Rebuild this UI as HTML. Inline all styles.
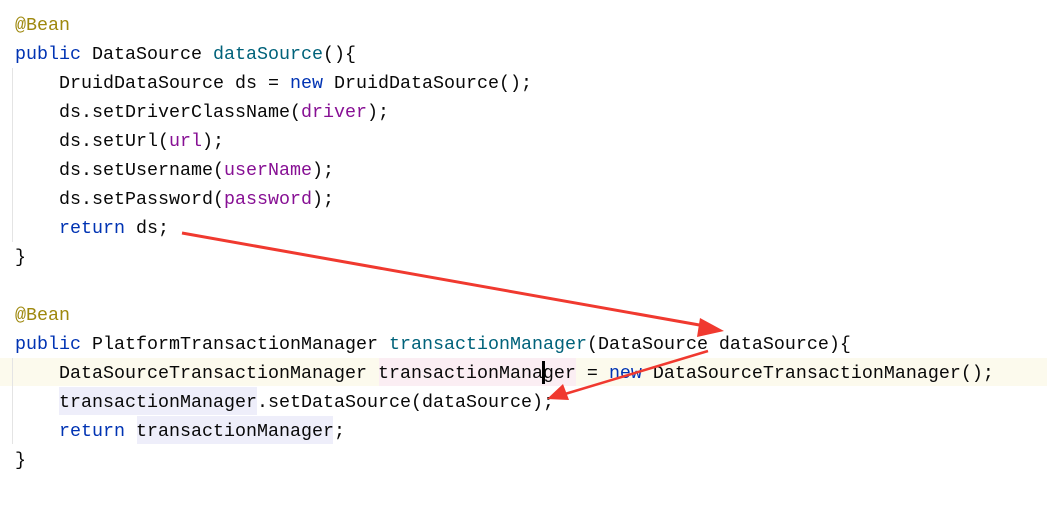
<!DOCTYPE html>
<html><head><style>
body{margin:0;width:1047px;height:521px;background:#fff;position:relative;overflow:hidden;font-family:"Liberation Mono",monospace;font-size:18.33px;color:#080808}
.l{position:absolute;left:15px;height:29px;line-height:29px;white-space:pre}
.a{color:#9e880d}.k{color:#0033b3}.f{color:#00627a}.p{color:#871094}
.hl{position:absolute}
</style></head><body>
<div class="hl" style="left:0;top:358px;width:1047px;height:28px;background:#fcfaed"></div>
<div class="hl" style="left:379px;top:358px;width:197px;height:28px;background:#fbeef3"></div>
<div class="hl" style="left:59px;top:387px;width:198px;height:28px;background:#eeeefa"></div>
<div class="hl" style="left:137px;top:416px;width:196px;height:28px;background:#eeeefa"></div>
<div class="hl" style="left:12px;top:68px;width:1px;height:174px;background:#e4e4e4"></div>
<div class="hl" style="left:12px;top:358px;width:1px;height:86px;background:#e4e4e4"></div>
<div class="l a" style="top:11px">@Bean</div>
<div class="l" style="top:40px"><span class="k">public</span> DataSource <span class="f">dataSource</span>(){</div>
<div class="l" style="top:69px">    DruidDataSource ds = <span class="k">new</span> DruidDataSource();</div>
<div class="l" style="top:98px">    ds.setDriverClassName(<span class="p">driver</span>);</div>
<div class="l" style="top:127px">    ds.setUrl(<span class="p">url</span>);</div>
<div class="l" style="top:156px">    ds.setUsername(<span class="p">userName</span>);</div>
<div class="l" style="top:185px">    ds.setPassword(<span class="p">password</span>);</div>
<div class="l" style="top:214px">    <span class="k">return</span> ds;</div>
<div class="l" style="top:243px">}</div>
<div class="l a" style="top:301px">@Bean</div>
<div class="l" style="top:330px"><span class="k">public</span> PlatformTransactionManager <span class="f">transactionManager</span>(DataSource dataSource){</div>
<div class="l" style="top:359px">    DataSourceTransactionManager transactionManager = <span class="k">new</span> DataSourceTransactionManager();</div>
<div class="l" style="top:388px">    transactionManager.setDataSource(dataSource);</div>
<div class="l" style="top:417px">    <span class="k">return</span> transactionManager;</div>
<div class="l" style="top:446px">}</div>
<div class="hl" style="left:542px;top:361px;width:3px;height:23px;background:#000"></div>
<svg width="1047" height="521" style="position:absolute;left:0;top:0">
<line x1="182" y1="233" x2="705" y2="326" stroke="#f0392f" stroke-width="3"/>
<polygon points="724,331 700,318 697,337" fill="#f0392f"/>
<line x1="708" y1="351" x2="565" y2="394" stroke="#f0392f" stroke-width="2.5"/>
<polygon points="547,399 563,384 569,400" fill="#f0392f"/>
</svg>
</body></html>
